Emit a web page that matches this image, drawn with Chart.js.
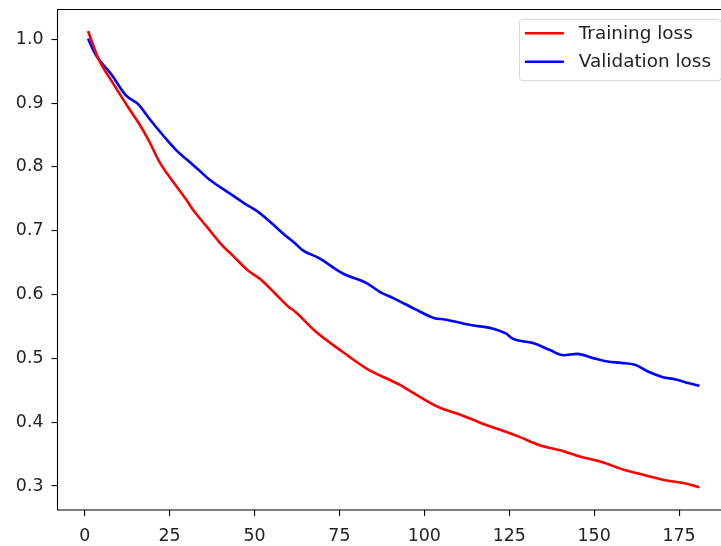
<!DOCTYPE html>
<html>
<head>
<meta charset="utf-8">
<script src="https://cdn.jsdelivr.net/npm/chart.js@4.4.1/dist/chart.umd.min.js"></script>
<style>
  html, body { margin: 0; padding: 0; background: #fff; overflow: hidden; }
</style>
</head>
<body>
<canvas id="lossChart" width="721" height="546"></canvas>
<script>
// values
const trainEpochs = [1, 4, 8, 13, 16, 19, 22, 26, 30, 32, 36, 40, 44, 48, 52, 56, 60, 62, 68, 76, 83, 93, 97, 104, 111, 117, 124, 128, 134, 140, 146, 152, 159, 165, 171, 177, 181];
const trainLoss = [1.013, 0.970, 0.934, 0.892, 0.868, 0.840, 0.808, 0.777, 0.748, 0.732, 0.706, 0.680, 0.659, 0.638, 0.623, 0.602, 0.581, 0.573, 0.542, 0.510, 0.484, 0.458, 0.445, 0.424, 0.411, 0.398, 0.385, 0.377, 0.364, 0.356, 0.346, 0.338, 0.325, 0.317, 0.309, 0.304, 0.298];

const valEpochs = [1, 3, 8, 12, 16, 19, 23, 27, 30, 33, 37, 42, 47, 51, 55, 59, 62, 64, 69, 76, 83, 87, 91, 97, 103, 106, 114, 120, 124, 126, 132, 137, 141, 145, 150, 154, 158, 162, 166, 170, 174, 178, 181];
const valLoss = [1.001, 0.978, 0.944, 0.913, 0.897, 0.876, 0.850, 0.826, 0.812, 0.798, 0.779, 0.761, 0.743, 0.730, 0.712, 0.693, 0.680, 0.670, 0.657, 0.633, 0.618, 0.604, 0.594, 0.578, 0.563, 0.561, 0.552, 0.547, 0.539, 0.531, 0.524, 0.513, 0.505, 0.507, 0.500, 0.495, 0.493, 0.490, 0.479, 0.471, 0.467, 0.461, 0.457];

const xTicks = [0, 25, 50, 75, 100, 125, 150, 175];
const yTicks = [0.3, 0.4, 0.5, 0.6, 0.7, 0.8, 0.9, 1.0];

const FS = 17.4;
const LEGEND_FS = 18.4;
const FONT = "'DejaVu Sans', sans-serif";

// the original figure is cut at the right, so no right spine; legend sits
// against the (hidden) right edge of the axes
const framePlugin = {
  id: 'frame',
  afterDraw(chart) {
    const ctx = chart.ctx;
    const a = chart.chartArea;
    ctx.save();
    ctx.strokeStyle = '#000';
    ctx.lineWidth = 1.1;
    ctx.beginPath();
    ctx.moveTo(a.right + 2, a.top);
    ctx.lineTo(a.left, a.top);
    ctx.lineTo(a.left, a.bottom);
    ctx.lineTo(a.right + 2, a.bottom);
    ctx.stroke();

    // legend
    ctx.font = LEGEND_FS + 'px ' + FONT;
    const sets = chart.data.datasets;
    let maxW = 0;
    sets.forEach(ds => { maxW = Math.max(maxW, ctx.measureText(ds.label).width); });
    const boxW = 59.4 + maxW + 10.3;
    const boxH = 61.4;
    const bx = a.right + 0.3 - boxW;
    const by = a.top + 9.8;
    ctx.beginPath();
    ctx.roundRect(bx, by, boxW, boxH, 3.5);
    ctx.fillStyle = 'rgba(255,255,255,0.8)';
    ctx.fill();
    ctx.strokeStyle = '#d6d6d6';
    ctx.lineWidth = 1;
    ctx.stroke();

    sets.forEach((ds, i) => {
      const cy = by + 14 + i * 28.4;
      ctx.beginPath();
      ctx.moveTo(bx + 5.5, cy);
      ctx.lineTo(bx + 44.5, cy);
      ctx.strokeStyle = ds.borderColor;
      ctx.lineWidth = 2.6;
      ctx.stroke();
      ctx.fillStyle = '#222';
      ctx.textBaseline = 'middle';
      ctx.textAlign = 'left';
      ctx.fillText(ds.label, bx + 59.4, cy + 1);
    });
    ctx.restore();
  }
};

const tickStyle = { font: { family: FONT, size: FS }, color: '#222' };

new Chart(document.getElementById('lossChart').getContext('2d'), {
  type: 'line',
  data: {
    datasets: [{
      label: 'Training loss',
      data: trainEpochs.map((e, i) => ({ x: e, y: trainLoss[i] })),
      borderColor: '#ff0000',
      backgroundColor: '#ff0000',
      borderWidth: 2.6,
      pointRadius: 0,
      cubicInterpolationMode: 'monotone'
    }, {
      label: 'Validation loss',
      data: valEpochs.map((e, i) => ({ x: e, y: valLoss[i] })),
      borderColor: '#0000ff',
      backgroundColor: '#0000ff',
      borderWidth: 2.6,
      pointRadius: 0,
      cubicInterpolationMode: 'monotone'
    }]
  },
  options: {
    responsive: false,
    animation: false,
    layout: { padding: { top: 9.5, right: 0, left: 0, bottom: 0 } },
    plugins: {
      legend: { display: false },
      tooltip: { enabled: false }
    },
    scales: {
      x: {
        type: 'linear',
        min: -8,
        max: 187.35,
        afterBuildTicks: s => { s.ticks = xTicks.map(v => ({ value: v })); },
        afterFit: s => { s.height = 36; s.paddingLeft = 0; s.paddingRight = 0; },
        grid: { drawOnChartArea: false, tickLength: 6, color: '#000', lineWidth: 1.1 },
        border: { display: false },
        ticks: Object.assign({ padding: 10, maxRotation: 0 }, tickStyle)
      },
      y: {
        type: 'linear',
        min: 0.2624,
        max: 1.0467,
        afterBuildTicks: s => { s.ticks = yTicks.map(v => ({ value: v })); },
        afterFit: s => { s.width = 57.5; s.paddingTop = 0; s.paddingBottom = 0; },
        grid: { drawOnChartArea: false, tickLength: 6, color: '#000', lineWidth: 1.1 },
        border: { display: false },
        ticks: Object.assign({ padding: 8, callback: v => v.toFixed(1) }, tickStyle)
      }
    }
  },
  plugins: [framePlugin]
});
</script>
</body>
</html>
